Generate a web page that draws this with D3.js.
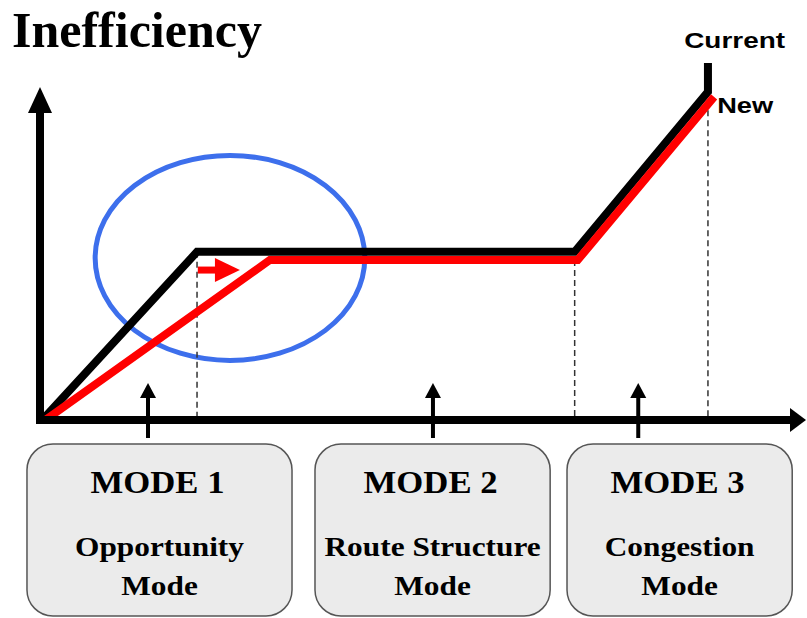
<!DOCTYPE html>
<html>
<head>
<meta charset="utf-8">
<script src="https://cdn.jsdelivr.net/npm/d3@7"></script>
<style>
  body { margin: 0; background: #fff; }
  svg { display: block; }
</style>
</head>
<body>
<svg id="chart"></svg>
<script>
// Current curve (black) and New curve (red), in chart units 0-100
const currentX = [0.3, 20.5, 69.8, 87.2, 87.2];
const currentY = [0, 47.1, 47.1, 91.9, 100];
const newX = [0.7, 30.0, 70.2, 88.0];
const newY = [0, 44.8, 44.8, 90.5];

// dashed guides at the breakpoints
const guideX = [20.5, 69.8, 87.2];
const guideTop = [47.1, 44.8, 89.6];

// shift of the breakpoint (red arrow)
const shiftX = [20.6, 26.1];
const shiftY = 42.0;

// modes
const modeTitles = ["MODE 1", "MODE 2", "MODE 3"];
const modeNames = [["Opportunity", "Mode"], ["Route Structure", "Mode"], ["Congestion", "Mode"]];
const modeArrowX = [14.1, 51.3, 78.1];
const modeStart = [-1.7, 35.9, 68.8];
const modeEnd = [32.9, 66.6, 98.2];

const axisTitle = "Inefficiency";
const seriesLabels = ["Current", "New"];

class Diagram {

  constructor(_config) {
    this.config = {
      parentElement: _config.parentElement,
      containerWidth: _config.containerWidth || 807,
      containerHeight: _config.containerHeight || 618
    }
    this.initVis();
  }

  initVis() {
    let vis = this;

    vis.xScale = d3.scaleLinear().domain([0, 100]).range([40, 806]);
    vis.yScale = d3.scaleLinear().domain([0, 100]).range([420, 63]);

    vis.svg = d3.select(vis.config.parentElement)
        .attr('width', vis.config.containerWidth)
        .attr('height', vis.config.containerHeight);

    vis.line = d3.line()
        .x(d => vis.xScale(d[0]))
        .y(d => vis.yScale(d[1]));

    vis.updateVis();
  }

  updateVis() {
    let vis = this;
    const x = vis.xScale, y = vis.yScale;

    // title
    vis.svg.append('text')
        .attr('x', 12)
        .attr('y', 47)
        .style('font-family', '"Liberation Serif", "Times New Roman", serif')
        .style('font-weight', 'bold')
        .style('font-size', '50px')
        .text(axisTitle);

    // blue highlight ellipse
    vis.svg.append('ellipse')
        .attr('cx', x(24.8))
        .attr('cy', y(45.4))
        .attr('rx', x(17.6) - x(0))
        .attr('ry', y(0) - y(28.7))
        .attr('fill', 'none')
        .attr('stroke', '#3d6fec')
        .attr('stroke-width', 5);

    // dashed guides
    vis.svg.selectAll('.guide')
      .data(guideX)
      .join('line')
        .attr('class', 'guide')
        .attr('x1', d => x(d))
        .attr('x2', d => x(d))
        .attr('y1', (d, i) => y(guideTop[i]))
        .attr('y2', y(0))
        .attr('stroke', '#333')
        .attr('stroke-width', 1.5)
        .attr('stroke-dasharray', '6,4');

    // curves
    vis.svg.append('path')
        .datum(currentX.map((d, i) => [d, currentY[i]]))
        .attr('d', vis.line)
        .attr('fill', 'none')
        .attr('stroke', '#000')
        .attr('stroke-width', 8)
        .attr('stroke-linejoin', 'miter');

    vis.svg.append('path')
        .datum(newX.map((d, i) => [d, newY[i]]))
        .attr('d', vis.line)
        .attr('fill', 'none')
        .attr('stroke', '#ff0000')
        .attr('stroke-width', 8)
        .attr('stroke-linejoin', 'miter');

    // red shift arrow
    vis.svg.append('line')
        .attr('x1', x(shiftX[0]))
        .attr('x2', x(shiftX[1]) - 20)
        .attr('y1', y(shiftY))
        .attr('y2', y(shiftY))
        .attr('stroke', '#ff0000')
        .attr('stroke-width', 7);
    vis.svg.append('path')
        .attr('d', `M${x(shiftX[1])},${y(shiftY)} L${x(shiftX[1]) - 25},${y(shiftY) - 12} L${x(shiftX[1]) - 25},${y(shiftY) + 12} Z`)
        .attr('fill', '#ff0000');

    // axes
    vis.svg.append('line')
        .attr('x1', x(0)).attr('x2', x(0))
        .attr('y1', y(0) + 4).attr('y2', y(93.3) + 22)
        .attr('stroke', '#000').attr('stroke-width', 8);
    vis.svg.append('path')
        .attr('d', `M${x(0)},${y(93.3)} L${x(0) - 12},${y(93.3) + 26} L${x(0) + 12},${y(93.3) + 26} Z`)
        .attr('fill', '#000');

    vis.svg.append('line')
        .attr('x1', x(0) - 4).attr('x2', x(100) - 14)
        .attr('y1', y(0)).attr('y2', y(0))
        .attr('stroke', '#000').attr('stroke-width', 8);
    vis.svg.append('path')
        .attr('d', `M${x(100)},${y(0)} L${x(100) - 16},${y(0) - 12} L${x(100) - 16},${y(0) + 12} Z`)
        .attr('fill', '#000');

    // series labels
    const labelFont = '"Liberation Sans", Arial, sans-serif';
    vis.svg.append('text')
        .attr('transform', `translate(${x(84.1)},48) scale(1.27,1)`)
        .style('font-family', labelFont)
        .style('font-weight', 'bold')
        .style('font-size', '22px')
        .text(seriesLabels[0]);
    vis.svg.append('text')
        .attr('transform', `translate(${x(88.4)},113) scale(1.24,1)`)
        .style('font-family', labelFont)
        .style('font-weight', 'bold')
        .style('font-size', '22px')
        .text(seriesLabels[1]);

    // mode arrows
    modeArrowX.forEach(d => {
      vis.svg.append('line')
          .attr('x1', x(d)).attr('x2', x(d))
          .attr('y1', 438).attr('y2', 396)
          .attr('stroke', '#000').attr('stroke-width', 4);
      vis.svg.append('path')
          .attr('d', `M${x(d)},383 L${x(d) - 8},398 L${x(d) + 8},398 Z`)
          .attr('fill', '#000');
    });

    // mode boxes
    const serif = '"Liberation Serif", "Times New Roman", serif';
    const boxes = vis.svg.selectAll('.mode')
      .data(modeTitles)
      .join('g')
        .attr('class', 'mode');

    boxes.append('rect')
        .attr('x', (d, i) => x(modeStart[i]))
        .attr('y', 444)
        .attr('width', (d, i) => x(modeEnd[i]) - x(modeStart[i]))
        .attr('height', 172)
        .attr('rx', 26)
        .attr('fill', '#ebebeb')
        .attr('stroke', '#555')
        .attr('stroke-width', 1.5);

    const cx = i => (x(modeStart[i]) + x(modeEnd[i])) / 2;

    boxes.append('text')
        .attr('transform', (d, i) => `translate(${cx(i) - 2},493) scale(1.12,1)`)
        .attr('text-anchor', 'middle')
        .style('font-family', serif)
        .style('font-weight', 'bold')
        .style('font-size', '31px')
        .text(d => d);

    boxes.append('text')
        .attr('transform', (d, i) => `translate(${cx(i)},556) scale(1.12,1)`)
        .attr('text-anchor', 'middle')
        .style('font-family', serif)
        .style('font-weight', 'bold')
        .style('font-size', '28px')
        .text((d, i) => modeNames[i][0]);

    boxes.append('text')
        .attr('transform', (d, i) => `translate(${cx(i)},595) scale(1.12,1)`)
        .attr('text-anchor', 'middle')
        .style('font-family', serif)
        .style('font-weight', 'bold')
        .style('font-size', '28px')
        .text((d, i) => modeNames[i][1]);
  }
}

let diagram = new Diagram({ parentElement: '#chart' });
</script>
</body>
</html>
